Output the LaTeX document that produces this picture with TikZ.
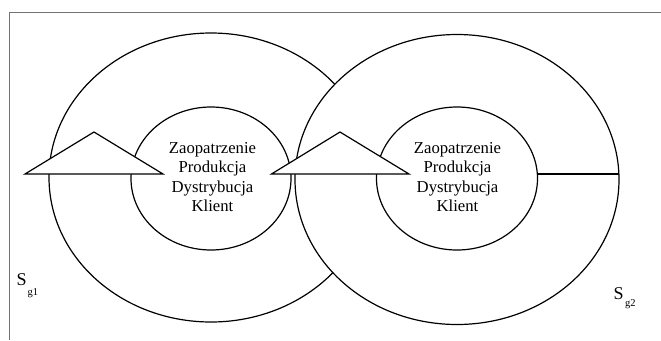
\documentclass[tikz,border=0pt]{standalone}
\usepackage{fontspec}
\setmainfont{Liberation Serif}
\usetikzlibrary{shapes.geometric}
\begin{document}
\begin{tikzpicture}[x=1pt,y=-1pt,
  ring/.style={ellipse, draw=black, line width=1.2pt, inner sep=0pt},
  tri/.style={draw=black, fill=white, line width=1.2pt, line join=miter},
  lbl/.style={align=center, font=\fontsize{16.7}{19.5}\selectfont, inner sep=0pt},
  sbig/.style={font=\fontsize{18}{20}\selectfont, inner sep=0pt, anchor=base west},
  ssub/.style={font=\fontsize{10.5}{12}\selectfont, inner sep=0pt, anchor=base west},
  frame/.style={draw=black!55, line width=1pt}]
\useasboundingbox (0,0) rectangle (661,340);
\fill[white] (0,0) rectangle (661,340);
\coordinate (fTL) at (9,12.3);
\coordinate (fBL) at (9,340);
\coordinate (fTR) at (661,12.3);
\draw[frame] (fBL) -- (fTL) -- (fTR);
% outer rings
\node[ring, minimum width=324pt, minimum height=289pt] (outL) at (211,177.5) {};
\node[ring, fill=white, minimum width=324pt, minimum height=290pt] (outR) at (457,179.5) {};
% inner rings
\node[ring, minimum width=160pt, minimum height=143pt] (inL) at (211,178.5) {};
\node[ring, minimum width=161pt, minimum height=143pt] (inR) at (457,178.5) {};
% radial line on right
\coordinate (lnA) at (537.5,174);
\coordinate (lnB) at (619,174);
\draw[line width=1.2pt] (lnA) -- (lnB);
% triangles
\coordinate (tL1) at (25,174);
\coordinate (tL2) at (163,174);
\coordinate (tL3) at (94,132);
\draw[tri] (tL1) -- (tL2) -- (tL3) -- cycle;
\coordinate (tR1) at (271.5,174);
\coordinate (tR2) at (409,174);
\coordinate (tR3) at (340,132);
\draw[tri] (tR1) -- (tR2) -- (tR3) -- cycle;
% texts
\node[lbl] (txtL) at (212.5,177) {Zaopatrzenie\\Produkcja\\Dystrybucja\\Klient};
\node[lbl] (txtR) at (457.5,177) {Zaopatrzenie\\Produkcja\\Dystrybucja\\Klient};
\node[sbig] (S1) at (16.5,285) {S};
\node[ssub] (S1s) at (27.5,295) {g1};
\node[sbig] (S2) at (613.5,299) {S};
\node[ssub] (S2s) at (625,306.5) {g2};
\end{tikzpicture}
\end{document}
